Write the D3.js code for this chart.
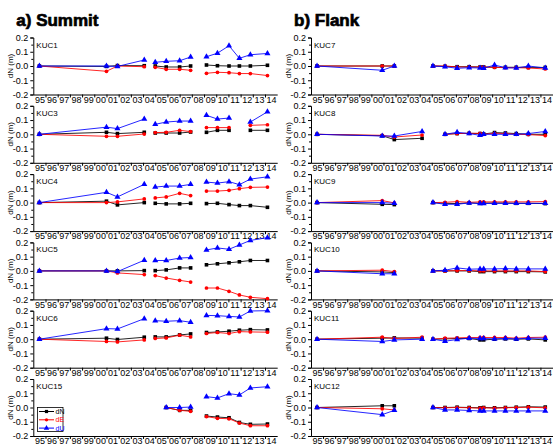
<!DOCTYPE html>
<meta charset="utf-8">
<head>
  <title>KUC displacements</title>
  <style>
    body { margin: 0; background: #fff; }
    text { font-family: "Liberation Sans", Arial, sans-serif; }
  </style>
</head>

<!-- Load d3.js -->
<script src="https://d3js.org/d3.v7.min.js"></script>

<svg id="chart" width="553" height="445"></svg>

<script>
// epochs (decimal years) and which campaign block each belongs to
var summitYears = [1995.0, 2000.5, 2001.4, 2003.6, 2004.5, 2005.4, 2006.5, 2007.4, 2008.7, 2009.6, 2010.55, 2011.4, 2012.3, 2013.7]
var summitBlock = [0, 0, 0, 0, 1, 1, 1, 1, 2, 2, 2, 2, 2, 2]
var flankYears = [1995.0, 2000.4, 2001.4, 2003.7, 2004.6, 2005.6, 2006.6, 2007.6, 2008.5, 2008.8, 2009.7, 2010.6, 2011.5, 2012.5, 2013.9]
var flankBlock = [0, 0, 0, 0, 1, 1, 1, 1, 1, 1, 1, 1, 1, 1, 1]

var yTicks = [-0.2, -0.1, 0.0, 0.1, 0.2]
var xTickLabels = ["95","96","97","98","99","00","01","02","03","04","05","06","07","08","09","10","11","12","13","14"]

// summit stations
var kuc1_dN = [0, -0.003, 0.003, 0.002, 0.0, -0.007, -0.007, 0.0, 0.007, 0.002, 0, 0, 0, 0.005]
var kuc1_dE = [0, -0.037, 0.0, -0.005, -0.009, -0.023, -0.023, -0.03, -0.051, -0.044, -0.047, -0.053, -0.053, -0.067]
var kuc1_dU = [0, 0.0, -0.003, 0.042, 0.026, 0.033, 0.037, 0.063, 0.065, 0.09, 0.142, 0.054, 0.079, 0.088]

var kuc3_dN = [0, 0.014, 0.005, 0.014, 0.009, 0.009, 0.009, 0.016, 0.014, 0.028, 0.028, null, 0.028, 0.028]
var kuc3_dE = [0, -0.014, -0.014, 0.002, 0.012, 0.014, 0.028, 0.019, 0.047, 0.047, 0.047, null, 0.063, 0.067]
var kuc3_dU = [0, 0.05, 0.04, 0.107, 0.07, 0.086, 0.093, 0.093, 0.133, 0.107, 0.114, null, 0.086, 0.158]

var kuc4_dN = [0, 0.01, -0.016, 0, -0.005, -0.009, -0.009, -0.005, -0.007, -0.005, -0.014, -0.021, -0.021, -0.033]
var kuc4_dE = [0, 0, 0.005, 0.026, 0.033, 0.04, 0.065, 0.049, 0.081, 0.081, 0.086, 0.098, 0.107, 0.109]
var kuc4_dU = [0, 0.072, 0.04, 0.128, 0.109, 0.116, 0.116, 0.128, 0.144, 0.137, 0.147, 0.126, 0.165, 0.181]

var kuc5_dN = [0, 0, 0, 0.002, 0.002, 0.007, 0.021, 0.021, 0.043, 0.05, 0.057, 0.064, 0.073, 0.073]
var kuc5_dE = [0, 0, -0.014, -0.026, -0.033, -0.05, -0.066, -0.078, -0.12, -0.12, -0.143, -0.169, -0.185, -0.195]
var kuc5_dU = [0, 0, -0.005, 0.075, 0.073, 0.073, 0.09, 0.094, 0.147, 0.161, 0.152, 0.182, 0.214, 0.233]

var kuc6_dN = [0, 0.007, -0.002, 0.014, 0.016, 0.016, 0.03, 0.037, 0.047, 0.051, 0.056, 0.063, 0.067, 0.065]
var kuc6_dE = [0, -0.016, -0.019, -0.005, 0.005, 0.009, 0.028, 0.016, 0.04, 0.047, 0.04, 0.053, 0.051, 0.049]
var kuc6_dU = [0, 0.074, 0.072, 0.144, 0.13, 0.126, 0.13, 0.119, 0.167, 0.165, 0.16, 0.156, 0.198, 0.2]

var kuc15_dN = [null, null, null, null, null, 0, -0.02, -0.02, -0.06, -0.067, -0.072, -0.105, -0.118, -0.116]
var kuc15_dE = [null, null, null, null, null, 0, -0.02, -0.027, -0.064, -0.076, -0.079, -0.109, -0.128, -0.128]
var kuc15_dU = [null, null, null, null, null, 0, 0, 0.003, 0.076, 0.067, 0.097, 0.088, 0.137, 0.146]

// flank stations
var kuc7_dN = [0, 0, 0, null, 0, -0.002, -0.005, -0.005, -0.007, -0.007, -0.009, -0.009, -0.009, -0.01, -0.01]
var kuc7_dE = [0, 0, 0, null, 0, 0, -0.007, -0.007, -0.007, -0.007, -0.009, -0.012, -0.012, -0.014, -0.021]
var kuc7_dU = [0, -0.03, 0, null, 0, -0.005, -0.016, -0.012, -0.014, -0.016, 0.007, -0.012, -0.014, 0, -0.014]

var kuc8_dN = [0, -0.01, -0.037, -0.028, null, 0, 0.005, 0.007, 0.005, 0.002, 0.012, 0.009, 0.005, 0, 0]
var kuc8_dE = [0, -0.007, -0.019, -0.005, null, 0, 0.005, 0.007, 0.007, 0, 0.007, 0.005, 0, -0.002, -0.009]
var kuc8_dU = [0, -0.012, -0.012, 0.02, null, 0, 0.014, 0.005, -0.007, 0, 0, 0, 0, 0.005, 0.02]

var kuc9_dN = [0, -0.012, -0.014, null, 0, -0.005, -0.007, -0.002, -0.005, -0.003, -0.003, -0.003, -0.005, -0.005, -0.007]
var kuc9_dE = [0, 0.014, -0.002, null, 0, 0.002, 0.007, 0.002, 0.005, 0.005, 0.005, 0.005, 0.005, 0.005, 0.007]
var kuc9_dU = [0, 0, -0.005, null, 0, -0.012, -0.012, -0.002, -0.007, -0.007, -0.005, -0.005, -0.005, -0.005, -0.005]

var kuc10_dN = [0, -0.007, -0.012, null, 0, 0, 0, 0, -0.005, -0.005, -0.005, -0.005, -0.005, -0.005, -0.007]
var kuc10_dE = [0, 0.005, -0.005, null, 0, 0, 0.002, 0.002, 0, 0, 0, 0, 0, 0, -0.005]
var kuc10_dU = [0, -0.02, -0.02, null, 0, 0.005, 0.021, 0.012, 0.014, 0.014, 0.014, 0.016, 0.014, 0.014, 0.014]

var kuc11_dN = [0, 0.007, 0.009, 0.007, 0, 0.002, 0.005, 0.005, -0.005, -0.005, 0, 0.002, 0, 0.002, -0.005]
var kuc11_dE = [0, 0.014, 0.005, 0.014, 0, 0.007, 0.009, 0.012, 0.012, 0.012, 0.012, 0.012, 0.007, 0.012, 0.014]
var kuc11_dU = [0, -0.016, -0.005, 0, 0, -0.014, -0.002, 0.007, 0.005, 0.005, 0.002, 0.005, 0.002, 0.007, 0.007]

var kuc12_dN = [0, 0.012, 0.012, null, 0, 0, 0.002, 0, -0.002, 0, -0.002, 0, 0.002, 0.005, 0.003]
var kuc12_dE = [0, -0.009, -0.017, null, 0, -0.002, 0, -0.002, -0.005, -0.002, -0.005, -0.002, 0, 0.002, -0.002]
var kuc12_dU = [0, -0.05, -0.02, null, 0, -0.017, -0.017, -0.021, -0.024, -0.024, -0.024, -0.024, -0.024, -0.024, -0.024]

var summitNames = ["KUC1", "KUC3", "KUC4", "KUC5", "KUC6", "KUC15"]
var summitSeries = [[kuc1_dN, kuc1_dE, kuc1_dU], [kuc3_dN, kuc3_dE, kuc3_dU], [kuc4_dN, kuc4_dE, kuc4_dU],
                    [kuc5_dN, kuc5_dE, kuc5_dU], [kuc6_dN, kuc6_dE, kuc6_dU], [kuc15_dN, kuc15_dE, kuc15_dU]]
var flankNames = ["KUC7", "KUC8", "KUC9", "KUC10", "KUC11", "KUC12"]
var flankSeries = [[kuc7_dN, kuc7_dE, kuc7_dU], [kuc8_dN, kuc8_dE, kuc8_dU], [kuc9_dN, kuc9_dE, kuc9_dU],
                   [kuc10_dN, kuc10_dE, kuc10_dU], [kuc11_dN, kuc11_dE, kuc11_dU], [kuc12_dN, kuc12_dE, kuc12_dU]]

var compNames = ["dN", "dE", "dU"]
var compColors = ["#000000", "#ff0000", "#0000ff"]
var compShapes = [d3.symbolSquare, d3.symbolCircle, d3.symbolTriangle]
var compSizes = [13, 11, 16]

var svg = d3.select("#chart")

var panelTop = 37.5, panelStep = 68.3, panelH = 57

function draw_column(left, right, title, names, series, years, block) {
  var x = d3.scaleLinear().domain([1994.5, 2014.5]).range([left, right])

  svg.append("text")
    .attr("x", left - 17).attr("y", 26)
    .text(title)
    .style("font-size", "17px").style("font-weight", "bold")
    .attr("stroke", "#000").attr("stroke-width", 0.7)

  names.forEach(function(name, i) {
    var top = panelTop + i * panelStep
    var y = d3.scaleLinear().domain([-0.2, 0.2]).range([top + panelH, top])
    var g = svg.append("g").attr("name", name)

    // y axis
    var yAxis = g.append("g").attr("transform", "translate(" + left + ",0)")
      .call(d3.axisLeft(y).tickValues(yTicks).tickSize(3).tickPadding(2).tickFormat(d3.format(".1f")))
    yAxis.selectAll("text").style("font-size", "9px").style("font-family", "Liberation Sans, Arial")
      .text(function(d) { return d3.format(".1f")(d).replace("−", "-") })
    g.append("g").attr("transform", "translate(" + left + ",0)")
      .call(d3.axisLeft(y).tickValues([-0.15, -0.05, 0.05, 0.15]).tickSize(2).tickFormat(""))
      .select(".domain").remove()

    // x axis: labels at year centres, ticks at year boundaries
    var xAxis = g.append("g").attr("transform", "translate(0," + (top + panelH) + ")")
      .call(d3.axisBottom(x).tickValues(d3.range(1995, 2015)).tickSize(0).tickPadding(2)
        .tickFormat(function(d, k) { return xTickLabels[k] }))
    xAxis.selectAll("text").style("font-size", "9px").style("font-family", "Liberation Sans, Arial")
    g.append("g").attr("transform", "translate(0," + (top + panelH) + ")")
      .call(d3.axisBottom(x).tickValues(d3.range(1995.5, 2014.5, 1)).tickSize(3).tickFormat(""))
      .select(".domain").remove()
    svg.selectAll(".domain").attr("stroke-width", 1)

    g.append("text")
      .attr("x", left + 3).attr("y", top + 10)
      .text(name).style("font-size", "8px")

    g.append("text")
      .attr("transform", "translate(" + (left - 20) + "," + (top + panelH / 2) + ") rotate(-90)")
      .attr("text-anchor", "middle")
      .text("dN (m)").style("font-size", "8px")

    series[i].forEach(function(vals, c) {
      var pts = vals.map(function(v, k) { return { t: years[k], v: v, b: block[k] } })
      var line = d3.line()
        .defined(function(d) { return d.v !== null })
        .x(function(d) { return x(d.t) })
        .y(function(d) { return y(d.v) })
      d3.groups(pts, function(d) { return d.b }).forEach(function(grp) {
        g.append("path")
          .attr("d", line(grp[1]))
          .attr("fill", "none")
          .attr("stroke", compColors[c])
          .attr("stroke-opacity", 0.85)
          .attr("stroke-width", 1)
      })
      g.selectAll(null)
        .data(pts.filter(function(d) { return d.v !== null }))
        .enter().append("path")
        .attr("transform", function(d) { return "translate(" + x(d.t) + "," + y(d.v) + ")" })
        .attr("d", d3.symbol().type(compShapes[c]).size(compSizes[c]))
        .attr("fill", compColors[c])
    })
  })
}

draw_column(33.3, 277.2, "a) Summit", summitNames, summitSeries, summitYears, summitBlock)
draw_column(311, 552.5, "b) Flank", flankNames, flankSeries, flankYears, flankBlock)

// legend in KUC15 panel
var lg = svg.append("g").attr("name", "legend")
lg.append("rect")
  .attr("x", 37.5).attr("y", 407.5).attr("width", 25.5).attr("height", 24)
  .attr("fill", "#fff").attr("stroke", "#000").attr("stroke-width", 0.8)
compNames.forEach(function(n, c) {
  var yy = 411.5 + c * 8.3
  lg.append("line").attr("x1", 39).attr("x2", 54).attr("y1", yy).attr("y2", yy)
    .attr("stroke", compColors[c]).attr("stroke-width", 1)
  lg.append("path").attr("transform", "translate(46.5," + yy + ")")
    .attr("d", d3.symbol().type(compShapes[c]).size(compSizes[c] * 0.8))
    .attr("fill", compColors[c])
  lg.append("text").attr("x", 55.5).attr("y", yy + 2.5)
    .text(n).style("font-size", "7px").attr("fill", compColors[c])
})
</script>
